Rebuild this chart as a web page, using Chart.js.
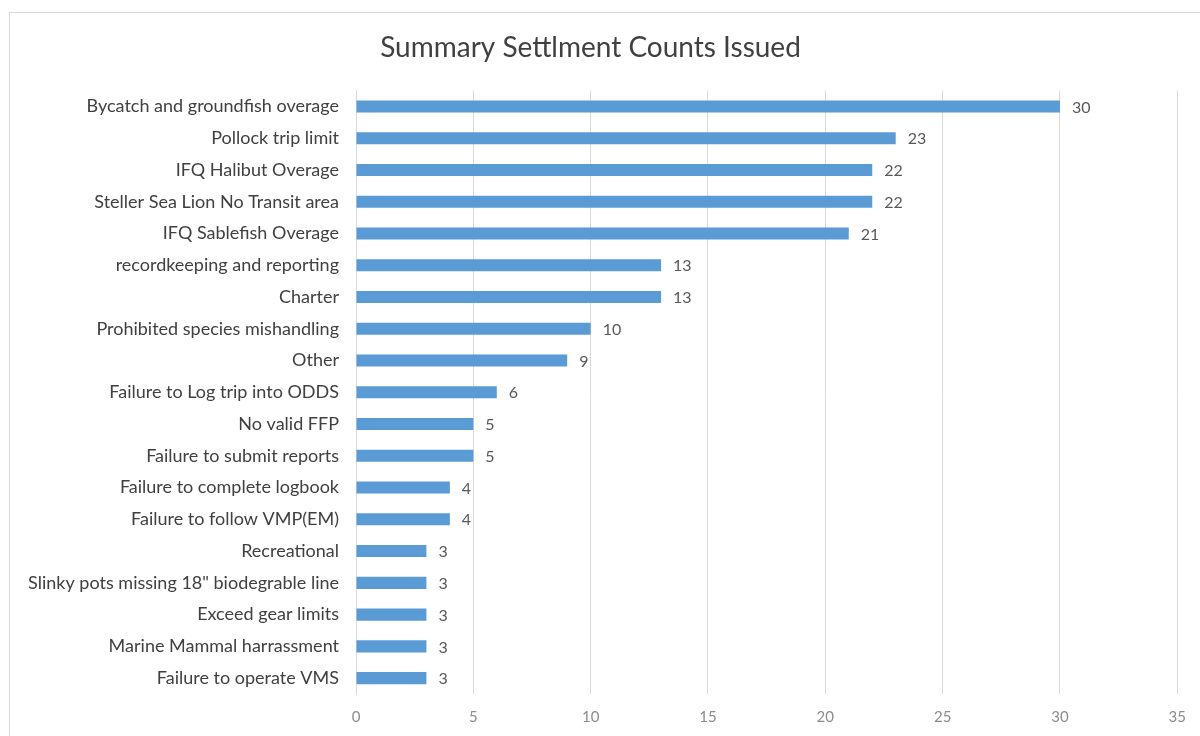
<!DOCTYPE html>
<html>
<head>
<meta charset="utf-8">
<script src="https://cdn.jsdelivr.net/npm/chart.js@4/dist/chart.umd.min.js"></script>
<style>
  body { margin: 0; background: #fff; }
  #frame { position: absolute; left: 9px; top: 12px; width: 1205px; height: 740px; border: 1px solid #d9d9d9; }
  #wrap { position: absolute; left: 0; top: 0; width: 1200px; height: 736px; }
</style>
</head>
<body>
<div id="frame"></div>
<div id="wrap"><canvas id="chart1"></canvas></div>
<script>
const categories = [
  "Bycatch and groundfish overage",
  "Pollock trip limit",
  "IFQ Halibut Overage",
  "Steller Sea Lion No Transit area",
  "IFQ Sablefish Overage",
  "recordkeeping and reporting",
  "Charter",
  "Prohibited species mishandling",
  "Other",
  "Failure to Log trip into ODDS",
  "No valid FFP",
  "Failure to submit reports",
  "Failure to complete logbook",
  "Failure to follow VMP(EM)",
  "Recreational",
  "Slinky pots missing 18\" biodegrable line",
  "Exceed gear limits",
  "Marine Mammal harrassment",
  "Failure to operate VMS"
];
const counts = [30, 23, 22, 22, 21, 13, 13, 10, 9, 6, 5, 5, 4, 4, 3, 3, 3, 3, 3];
const xTicks = [0, 5, 10, 15, 20, 25, 30, 35];

const fontFam = "Lato, 'Open Sans', sans-serif";

// value labels to the right of each bar
const barLabels = {
  id: "barLabels",
  afterDatasetsDraw(chart) {
    let ctx = chart.ctx;
    let meta = chart.getDatasetMeta(0);
    ctx.save();
    ctx.font = "16px " + fontFam;
    ctx.fillStyle = "#595959";
    ctx.textAlign = "left";
    ctx.textBaseline = "middle";
    meta.data.forEach((bar, i) => {
      ctx.fillText(counts[i], bar.x + 12, bar.y + 1);
    });
    ctx.restore();
  }
};

new Chart(document.getElementById("chart1"), {
  type: "bar",
  data: {
    labels: categories,
    datasets: [{
      data: counts,
      backgroundColor: "#5b9bd5",
      categoryPercentage: 1,
      barPercentage: 0.38
    }]
  },
  options: {
    indexAxis: "y",
    responsive: true,
    maintainAspectRatio: false,
    animation: false,
    layout: { padding: { left: 0, right: 19, top: 0, bottom: 0 } },
    plugins: {
      legend: { display: false },
      tooltip: { enabled: false },
      title: {
        display: true,
        text: "Summary Settlment Counts Issued",
        color: "#404040",
        font: { family: fontFam, size: 28, weight: "normal" },
        padding: { top: 31, bottom: 26 }
      }
    },
    scales: {
      x: {
        min: 0, max: 35,
        afterBuildTicks(scale) { scale.ticks = xTicks.map(v => ({ value: v })); },
        afterFit(scale) { scale.height = 42; },
        grid: { color: "#d9d9d9", drawTicks: false },
        border: { display: false },
        ticks: { color: "#8c8c8c", padding: 14, font: { family: fontFam, size: 15 } }
      },
      y: {
        afterFit(scale) { scale.width = 356; },
        grid: { display: false, drawTicks: false },
        border: { display: true, color: "#d9d9d9" },
        ticks: { color: "#404040", padding: 17, font: { family: fontFam, size: 18 } }
      }
    }
  },
  plugins: [barLabels]
});
</script>
</body>
</html>
